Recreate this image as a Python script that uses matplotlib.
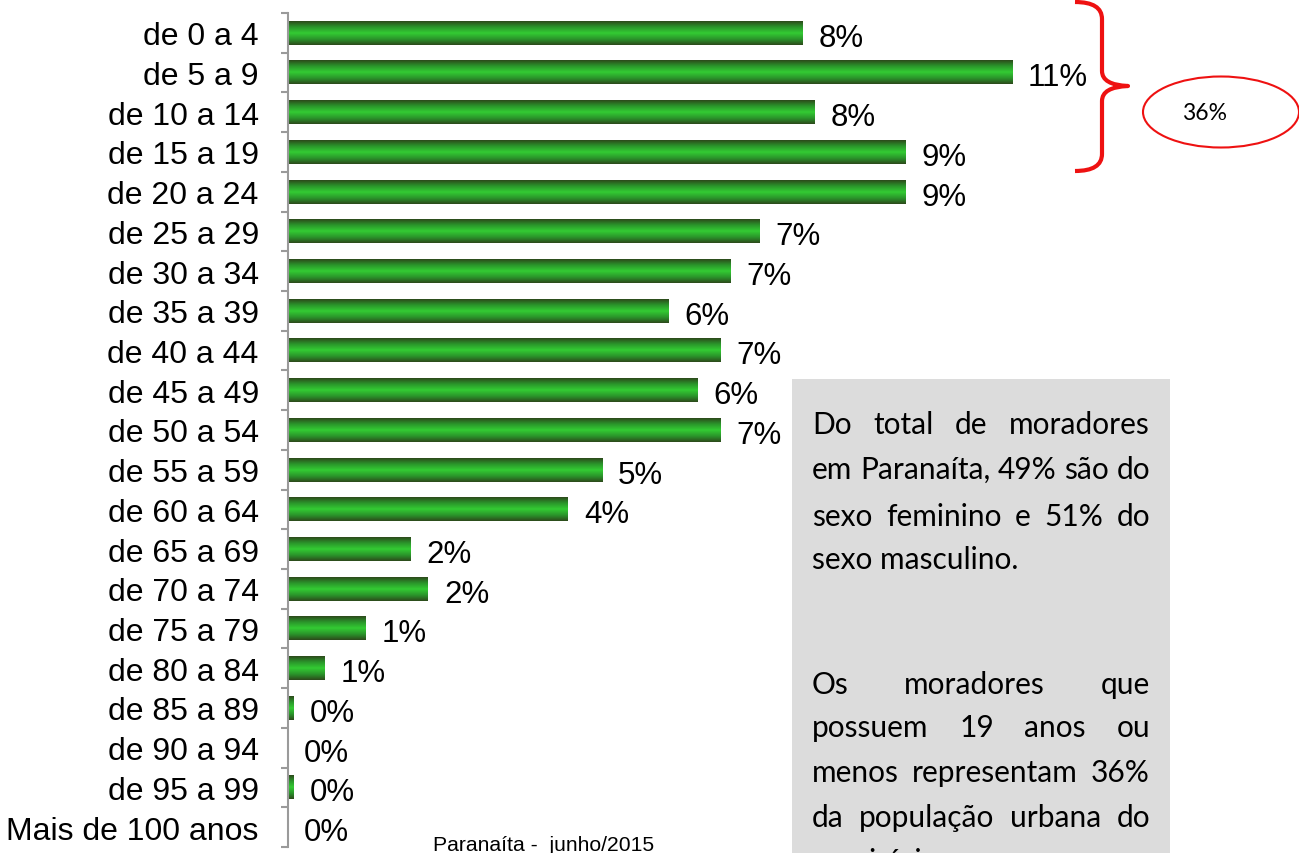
import numpy as np
import matplotlib
matplotlib.use("Agg")
import matplotlib.pyplot as plt
from matplotlib.colors import LinearSegmentedColormap
from matplotlib.patches import Ellipse, Rectangle, PathPatch
from matplotlib.path import Path
from matplotlib.transforms import Affine2D

# ---------------- data ----------------
categories = ["de 0 a 4", "de 5 a 9", "de 10 a 14", "de 15 a 19", "de 20 a 24",
              "de 25 a 29", "de 30 a 34", "de 35 a 39", "de 40 a 44", "de 45 a 49",
              "de 50 a 54", "de 55 a 59", "de 60 a 64", "de 65 a 69", "de 70 a 74",
              "de 75 a 79", "de 80 a 84", "de 85 a 89", "de 90 a 94", "de 95 a 99",
              "Mais de 100 anos"]
values = [7.8, 10.97, 7.98, 9.35, 9.35, 7.14, 6.7, 5.77, 6.55, 6.2, 6.55,
          4.76, 4.24, 1.86, 2.12, 1.18, 0.55, 0.08, 0.0, 0.08, 0.0]
value_labels = [f"{round(v)}%" for v in values]
bracket_label = "36%"
footer = "Paranaíta -  junho/2015"
note_lines = [("Do total de moradores", True),
              ("em Paranaíta, 49% são do", True),
              ("sexo feminino e 51% do", True),
              ("sexo masculino.", False),
              ("Os moradores que", True),
              ("possuem 19 anos ou", True),
              ("menos representam 36%", True),
              ("da população urbana do", True),
              ("município.", False)]

W, H = 1299, 854
fig = plt.figure(figsize=(W / 100, H / 100), dpi=100)
pix = Affine2D().scale(1 / W, -1 / H).translate(0, 1) + fig.transFigure

ax_left, ax_right, ax_top, ax_bot = 288, 1080, 14, 848
ax = fig.add_axes([ax_left / W, 1 - ax_bot / H, (ax_right - ax_left) / W, (ax_bot - ax_top) / H])
ax.set_facecolor("none")

y = np.arange(len(categories))
bar_h = 0.6
cmap = LinearSegmentedColormap.from_list(
    "g", [(0.0, "#2d4a1b"), (0.22, "#2a8f2a"), (0.5, "#33cc33"), (0.78, "#2a8f2a"), (1.0, "#2d4a1b")])
grad = np.linspace(0, 1, 64).reshape(-1, 1)
bars = ax.barh(y, values, height=bar_h, color="none", edgecolor="none")
for b, v in zip(bars, values):
    if v <= 0:
        continue
    x0, y0 = b.get_x(), b.get_y()
    ax.imshow(grad, cmap=cmap, aspect="auto", interpolation="bilinear",
              extent=[x0, x0 + b.get_width(), y0 + b.get_height(), y0], zorder=2)

for yi, v, lab in zip(y, values, value_labels):
    ax.annotate(lab, (v, yi), xytext=(11.5, -3.5), textcoords="offset points",
                ha="left", va="center", fontsize=22.5, family="Liberation Sans", color="black")

ax.set_xlim(0, 12)
ax.set_ylim(len(categories) - 0.5, -0.5)
for s in ["top", "right", "bottom"]:
    ax.spines[s].set_visible(False)
ax.spines["left"].set_color("#9a9a9a")
ax.spines["left"].set_linewidth(1.5)
ax.set_xticks([])
ax.set_yticks(y)
ax.set_yticklabels(categories, fontsize=23, family="Liberation Sans")
ax.tick_params(axis="y", which="major", length=0, pad=21)
ax.set_yticks(np.arange(-0.5, len(categories), 1.0), minor=True)
ax.tick_params(axis="y", which="minor", length=5, width=1.5, color="#9a9a9a")

# red brace
verts = [(1075, 3), (1102, 3), (1102, 20),
         (1102, 72),
         (1102, 86), (1128, 87),
         (1102, 88), (1102, 102),
         (1102, 155),
         (1102, 172), (1075, 172)]
codes = [Path.MOVETO, Path.CURVE3, Path.CURVE3,
         Path.LINETO,
         Path.CURVE3, Path.CURVE3,
         Path.CURVE3, Path.CURVE3,
         Path.LINETO,
         Path.CURVE3, Path.CURVE3]
fig.add_artist(PathPatch(Path(verts, codes), transform=pix, fill=False,
                         edgecolor="#ee1111", linewidth=3.0, capstyle="butt", joinstyle="round"))
fig.add_artist(Ellipse((1221, 113), 156, 71, transform=pix, fill=False,
                       edgecolor="#ee1111", linewidth=1.5))
fig.text(1205 / W, 1 - 113 / H, bracket_label, ha="center", va="center",
         fontsize=16.5, family="Lato", color="black")

# gray note box
fig.add_artist(Rectangle((792, 380), 378, 480, transform=pix, facecolor="#dcdcdc",
                         edgecolor="none", zorder=0))
fig.canvas.draw()
renderer = fig.canvas.get_renderer()
note_y = [425, 470, 517, 560, 685, 728, 773, 818, 862]
left, right = 812, 1150
fs_note = 21.5
for (line, just), ly in zip(note_lines, note_y):
    words = line.split(" ")
    if not just or len(words) == 1:
        fig.text(left / W, 1 - ly / H, line, ha="left", va="center",
                 fontsize=fs_note, family="Lato", color="black")
        continue
    arts = [fig.text(0, 1 - ly / H, w, ha="left", va="center", fontsize=fs_note,
                     family="Lato", color="black") for w in words]
    widths = [a.get_window_extent(renderer).width for a in arts]
    gap = (right - left - sum(widths)) / (len(words) - 1)
    xpos = left
    for a, wd in zip(arts, widths):
        a.set_x(xpos / W)
        xpos += wd + gap

fig.text(433 / W, 1 - 846 / H, footer, ha="left", va="center", fontsize=15.2,
         family="Liberation Sans", color="black")

fig.savefig("out.png", dpi=100)
